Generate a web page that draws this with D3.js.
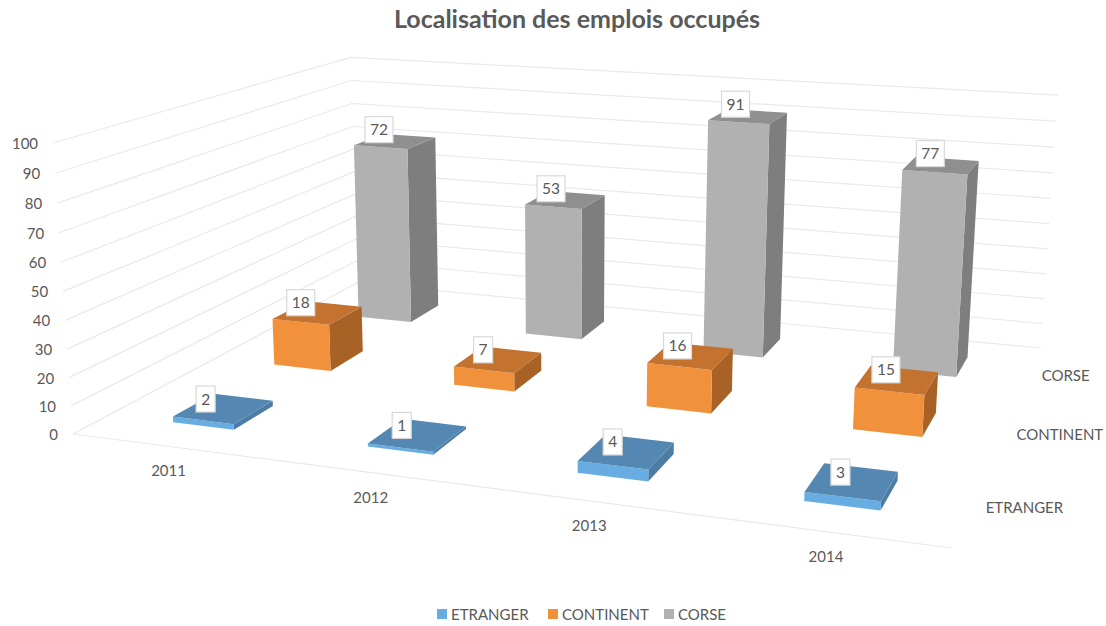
<!DOCTYPE html>
<html><head><meta charset="utf-8">
<script src="https://cdn.jsdelivr.net/npm/d3@7"></script>
<style>html,body{margin:0;padding:0;background:#fff}svg{display:block;font-family:Lato,"Open Sans",sans-serif}</style>
</head><body><svg id="c" width="1106" height="626"></svg>
<script>
const title = "Localisation des emplois occupés";
const categories = ["2011","2012","2013","2014"];
const seriesNames = ["ETRANGER","CONTINENT","CORSE"];
const etranger = [2,1,4,3];
const continent = [18,7,16,15];
const corse = [72,53,91,77];
const valueTicks = [0,10,20,30,40,50,60,70,80,90,100];
const seriesValues = [etranger,continent,corse];
const faceColors = [
  {front:"#68ade2",top:"#5488b2",side:"#4c7ca4"},
  {front:"#f2913c",top:"#c4722f",side:"#a96226"},
  {front:"#b1b1b1",top:"#8f8f8f",side:"#7e7e7e"}];
const legendColors = ["#68ade2","#f2913c","#b1b1b1"];

// Camera: floor corners and vertical vanishing point on the page
const FL=[73,434],FR=[952,548],BR=[1041,348],BL=[357,283],VP=[560,7548],TOP_FL_Y=143;
const sx=FL[0]-FR[0]+BR[0]-BL[0], sy=FL[1]-FR[1]+BR[1]-BL[1];
const dx1=FR[0]-BR[0],dx2=BL[0]-BR[0],dy1=FR[1]-BR[1],dy2=BL[1]-BR[1];
const det=dx1*dy2-dx2*dy1;
const g=(sx*dy2-dx2*sy)/det,h=(dx1*sy-sx*dy1)/det;
const A=FR[0]-FL[0]+g*FR[0],B=BL[0]-FL[0]+h*BL[0],C=FL[0];
const D=FR[1]-FL[1]+g*FR[1],E=BL[1]-FL[1]+h*BL[1],F=FL[1];
const K=(TOP_FL_Y-FL[1])/(VP[1]-TOP_FL_Y);
function proj(u,v,t){const w=g*u+h*v+1+K*t;
  return [(A*u+B*v+C+K*VP[0]*t)/w,(D*u+E*v+F+K*VP[1]*t)/w];}

const uScale=d3.scaleBand().domain(categories).range([0,1]).paddingInner(0.68).paddingOuter(0.34);
const vScale=d3.scaleBand().domain(seriesNames).range([0,1]).paddingInner(0.62).paddingOuter(0.31);
const tScale=d3.scaleLinear().domain([0,100]).range([0,1]);

const svg=d3.select("#c");
const ink="#595959";
const poly=pts=>pts.map(p=>p.map(n=>n.toFixed(1)).join(",")).join(" ");

svg.append("text").attr("x",577).attr("y",28).attr("text-anchor","middle")
  .attr("font-size",25).attr("font-weight",700).attr("fill",ink).text(title);

// Grid
const grid=svg.append("g").attr("fill","none").attr("stroke","#e9e9e9").attr("stroke-width",1.2);
valueTicks.forEach(tv=>{const t=tScale(tv);
  grid.append("polyline").attr("points",poly([proj(0,0,t),proj(0,1,t),proj(1,1,t)]));});
grid.append("line").attr("x1",FL[0]).attr("y1",FL[1]).attr("x2",FR[0]).attr("y2",FR[1]);

// Value axis labels
svg.append("g").selectAll("text").data(valueTicks).join("text")
  .attr("x",d=>proj(0,0,tScale(d))[0]-15).attr("y",d=>proj(0,0,tScale(d))[1]+6)
  .attr("text-anchor","end").attr("font-size",15).attr("fill",ink).text(d=>d);

// Category labels
svg.append("g").selectAll("text").data(categories).join("text")
  .attr("x",d=>proj(uScale(d)+uScale.bandwidth()/2,0,0)[0])
  .attr("y",d=>proj(uScale(d)+uScale.bandwidth()/2,0,0)[1]+30)
  .attr("text-anchor","middle").attr("font-size",15).attr("fill",ink).text(d=>d);

// Series labels
svg.append("g").selectAll("text").data(seriesNames).join("text")
  .attr("x",d=>proj(1.015,vScale(d)+vScale.bandwidth()/2,0)[0])
  .attr("y",d=>proj(1.015,vScale(d)+vScale.bandwidth()/2,0)[1]+6)
  .attr("font-size",15).attr("fill",ink).text(d=>d);

// Bars, back to front
const bars=svg.append("g"), labels=svg.append("g");
[2,1,0].forEach(j=>{
  categories.forEach((cat,i)=>{
    const val=seriesValues[j][i],c=faceColors[j];
    const u0=uScale(cat),u1=u0+uScale.bandwidth();
    const v0=vScale(seriesNames[j]),v1=v0+vScale.bandwidth();
    const t=tScale(val);
    const gb=bars.append("g");
    gb.append("polygon").attr("fill",c.side).attr("points",poly([proj(u1,v0,0),proj(u1,v1,0),proj(u1,v1,t),proj(u1,v0,t)]));
    gb.append("polygon").attr("fill",c.front).attr("points",poly([proj(u0,v0,0),proj(u1,v0,0),proj(u1,v0,t),proj(u0,v0,t)]));
    gb.append("polygon").attr("fill",c.top).attr("points",poly([proj(u0,v0,t),proj(u1,v0,t),proj(u1,v1,t),proj(u0,v1,t)]));
    const p=proj((u0+u1)/2,(v0+v1)/2,t);
    const lg=labels.append("g").attr("transform",`translate(${p[0]-15+(p[0]-500)*0.01},${p[1]-9.5-t*3})`);
    const txt=lg.append("text").attr("text-anchor","middle").attr("y",5.5).attr("font-size",15.5).attr("fill",ink).text(val);
    const w=txt.node().getComputedTextLength()+10;
    lg.insert("rect","text").attr("x",-w/2).attr("y",-13).attr("width",w).attr("height",26)
      .attr("fill","#fff").attr("stroke","#d9d9d9").attr("stroke-width",1.2);
  });
});

// Legend
const legendX=[437,548,664];
const lg=svg.append("g").selectAll("g").data(seriesNames).join("g")
  .attr("transform",(d,i)=>`translate(${legendX[i]},614)`);
lg.append("rect").attr("x",0).attr("y",-5).attr("width",10).attr("height",10).attr("fill",(d,i)=>legendColors[i]);
lg.append("text").attr("x",14).attr("y",5.5).attr("font-size",15).attr("fill",ink).text(d=>d);
</script></body></html>
